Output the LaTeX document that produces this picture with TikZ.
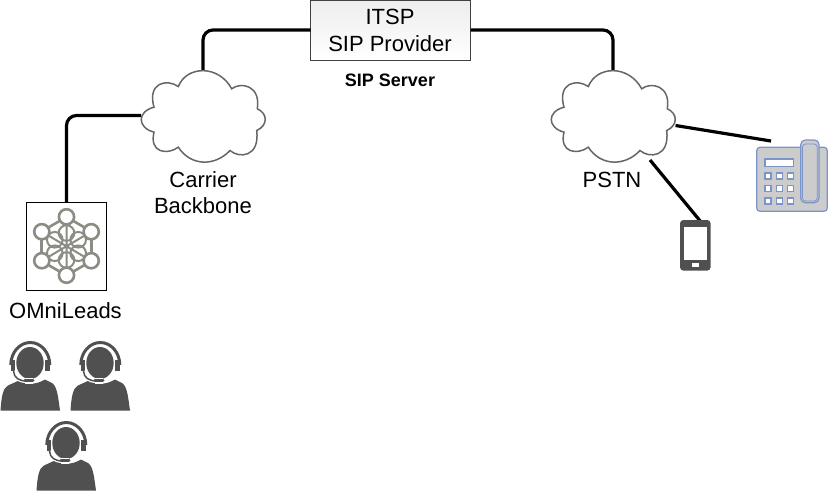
\documentclass[tikz,border=0pt]{standalone}
\usepackage{fontspec}
\setmainfont{Liberation Sans}
\usetikzlibrary{shadings}
\definecolor{iconblue}{HTML}{7C95C8}
\definecolor{icondark}{HTML}{505050}
\definecolor{atomgray}{HTML}{8C8C84}
\newcommand{\cloudshape}{(-24.7,-29) .. controls (-16,-50.5) and (16,-50.5) .. (28.7,-26.7)
 .. controls (38,-34) and (58,-30) .. (54.3,-6.7)
 .. controls (65,-2) and (65,10) .. (53.7,15)
 .. controls (57,42) and (36,43) .. (27,35)
 .. controls (12,51) and (-12,51) .. (-24.7,31.7)
 .. controls (-36,40) and (-54,37) .. (-49,16.7)
 .. controls (-66,12) and (-66,-4) .. (-49,-8.3)
 .. controls (-56,-33) and (-36,-37) .. (-24.7,-29) -- cycle}
\tikzset{
  wire/.style={line width=3.2pt,black,rounded corners=10pt},
  straightwire/.style={line width=3.2pt,black},
  cloudline/.style={draw=black!60,line width=1.5pt,fill=white},
  cloudbox/.style={minimum width=124pt,minimum height=89pt,inner sep=0pt,outer sep=0pt},
  lbl/.style={font=\fontsize{22}{26}\selectfont,align=center,inner sep=0pt},
  boldlbl/.style={font=\fontsize{18}{22}\selectfont\bfseries,inner sep=0pt},
  itspbox/.style={draw=black!75,line width=1pt,top color=black!7,bottom color=white,minimum width=160pt,minimum height=60pt,inner sep=0pt,outer sep=0pt},
  omnibox/.style={draw=black,line width=1pt,fill=white,minimum width=80pt,minimum height=88pt,inner sep=0pt,outer sep=0pt},
  atom/.style={draw=atomgray,line width=2.6pt},
  headset/.pic={
    \fill[icondark] (0.5,69.5) .. controls (1.5,55) and (3,47) .. (8,44.5) -- (20,39)
      .. controls (26,44) and (36,44) .. (45,38.5) -- (52,42)
      .. controls (57,45) and (58,55) .. (60,69.5) -- cycle;
    \fill[icondark] (30,22) ellipse (13.7 and 16);
    \draw[icondark,line width=3pt] (10.8,24) arc (180:360:19.5 and 22.5);
    \fill[icondark] (11,19) rectangle (15.3,30);
    \fill[icondark] (44.7,19) rectangle (49.5,30);
    \draw[white,line width=4pt] (13.5,30) .. controls (14,37) and (19,40) .. (27,40);
    \draw[icondark,line width=1.5pt] (13.5,30) .. controls (14,37) and (19,40) .. (27,40);
    \draw[white,line width=6pt] (25,39.5) -- (33,39.5);
    \draw[icondark,line width=3pt,line cap=round] (25,39.5) -- (33,39.5);
  }
}
\begin{document}
\begin{tikzpicture}[x=1pt,y=-1pt]
\useasboundingbox (0,0) rectangle (828,491);
% anchors
\node[cloudbox] (cloudA) at (203,115.5) {};
\node[cloudbox] (cloudB) at (613,115.5) {};
\node[itspbox,align=center] (itsp) at (390.5,30) {};
\node[lbl] (itspA) at (390,17) {ITSP};
\node[lbl] (itspB) at (390,44) {SIP Provider};
\node[omnibox] (omni) at (66.5,246.5) {};
\node[minimum width=70pt,minimum height=71pt,inner sep=0pt] (phone) at (792,175.5) {};
\node[minimum width=30pt,minimum height=50pt,inner sep=0pt] (mobile) at (695.3,245.3) {};
\coordinate (phoneEnd) at (771,141);
\coordinate (mobileEnd) at (701,222);
\coordinate (pstnA) at (675.5,125.5);
\coordinate (pstnB) at (650,160);
% connectors
\draw[wire] (itsp.west) -- (cloudA.center |- itsp.west) -- (cloudA.north);
\draw[wire] (itsp.east) -- (cloudB.center |- itsp.east) -- (cloudB.north);
\draw[wire] (omni.north) -- (omni.north |- cloudA.west) -- (cloudA.west);
\draw[straightwire] (pstnA) -- (phoneEnd);
\draw[straightwire] (pstnB) -- (mobileEnd);
% clouds
\draw[cloudline,shift={(cloudA.center)}] \cloudshape;
\draw[cloudline,shift={(cloudB.center)}] \cloudshape;
% labels
\node[boldlbl] (srv) at (390,80) {SIP Server};
\node[lbl] (carrierA) at (203,179.5) {Carrier};
\node[lbl] (carrierB) at (203,205.5) {Backbone};
\node[lbl] (pstn) at (612,179.5) {PSTN};
\node[lbl] (omnil) at (65.5,311) {OMniLeads};
% atom icon
\begin{scope}[shift={(omni.center)}]
  \draw[atom] (0,-29.5) -- (25,-15) -- (25,14.5) -- (0,29) -- (-25,14.5) -- (-25,-15) -- cycle;
  \draw[atom,line width=2pt] (0,-29.5) -- (0,29) (25,-15) -- (-25,14.5) (-25,-15) -- (25,14.5);
  \foreach \a in {30,90,150,210,270,330}
    \draw[atom,line width=2pt] (\a:13.5) circle (7.8);
  \foreach \p in {(0,-29.7),(24.7,-14.8),(24.7,14.2),(0,28.7),(-24.7,14.2),(-24.7,-14.8)}
    \draw[atom,fill=white] \p circle (7.6);
\end{scope}
% agents
\pic at (0,341) {headset};
\pic at (70,341) {headset};
\pic at (36,421) {headset};
% desk phone
\draw[iconblue,line width=1.2pt,fill=black!20,rounded corners=3pt] (phone.north west |- 0,147.3) rectangle (phone.south east);
\draw[iconblue,line width=1.2pt,fill=black!20,rounded corners=4.5pt] (800.7,140) rectangle (819,202.7);
\draw[iconblue,line width=0.8pt,rounded corners=3pt] (802.5,144) rectangle (817.2,201);
\draw[iconblue,line width=1.2pt,fill=white] (765,159) rectangle (793.3,166.7);
\foreach \kx in {768,779.3,790.3}
  \foreach \ky in {176,188.7,201}
    \draw[iconblue,line width=1.2pt,fill=white] (\kx-3,\ky-3) rectangle (\kx+3,\ky+3);
% mobile
\fill[icondark,rounded corners=3pt] (mobile.north west) rectangle (mobile.south east);
\fill[white] (683.7,226.7) rectangle (707,260);
\fill[white] (692.3,263.3) rectangle (698.7,266.7);
\end{tikzpicture}
\end{document}
